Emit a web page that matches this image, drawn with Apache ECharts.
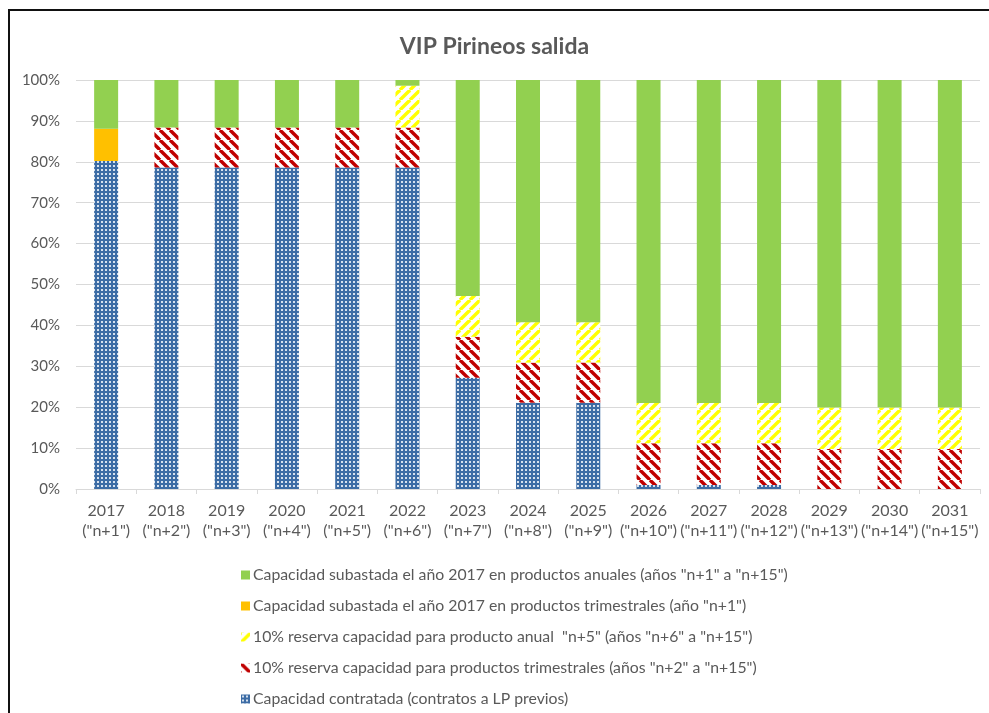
<!DOCTYPE html>
<html>
<head>
<meta charset="utf-8">
<script src="https://cdn.jsdelivr.net/npm/echarts@6/dist/echarts.min.js"></script>
<style>
  html, body { margin: 0; padding: 0; background: #fff; }
  #chart { width: 989px; height: 713px; }
</style>
</head>
<body>
<div id="chart"></div>
<script>
const years = ['2017', '2018', '2019', '2020', '2021', '2022', '2023', '2024', '2025', '2026', '2027', '2028', '2029', '2030', '2031']
const steps = ['"n+1"', '"n+2"', '"n+3"', '"n+4"', '"n+5"', '"n+6"', '"n+7"', '"n+8"', '"n+9"', '"n+10"', '"n+11"', '"n+12"', '"n+13"', '"n+14"', '"n+15"']

// % of capacity
const contratada = [80.2, 78.6, 78.6, 78.6, 78.6, 78.6, 27.2, 21.1, 21.1, 1.0, 1.0, 1.0, 0, 0, 0]
const trimestral2017 = [7.9, 0, 0, 0, 0, 0, 0, 0, 0, 0, 0, 0, 0, 0, 0]
const reservaTrim = [0, 9.8, 9.8, 9.8, 9.8, 9.8, 10.0, 9.8, 9.8, 10.2, 10.2, 10.2, 9.8, 9.8, 9.8]
const reservaAnual = [0, 0, 0, 0, 0, 10.2, 10.0, 9.9, 9.9, 9.8, 9.8, 9.8, 10.1, 10.1, 10.1]
const anuales2017 = [11.9, 11.6, 11.6, 11.6, 11.6, 1.4, 52.8, 59.2, 59.2, 79.0, 79.0, 79.0, 80.1, 80.1, 80.1]

const yTicks = [0, 10, 20, 30, 40, 50, 60, 70, 80, 90, 100]

const names = {
  anual: 'Capacidad subastada el año 2017 en productos anuales (años "n+1" a "n+15")',
  trim: 'Capacidad subastada el año 2017 en productos trimestrales (año "n+1")',
  resAnual: '10% reserva capacidad para producto anual  "n+5" (años "n+6" a "n+15")',
  resTrim: '10% reserva capacidad para productos trimestrales (años "n+2" a "n+15")',
  contr: 'Capacidad contratada (contratos a LP previos)',
}

const FONT = 'Lato, "Open Sans", sans-serif'
const TXT = '#595959'

function stripes(color, dir) {
  const s = 10
  const c = document.createElement('canvas')
  c.width = s
  c.height = s
  const g = c.getContext('2d')
  g.fillStyle = '#fff'
  g.fillRect(0, 0, s, s)
  g.strokeStyle = color
  g.lineWidth = 3.4
  for (let k = -1; k <= 1; k++) {
    g.beginPath()
    if (dir === 'down') {
      g.moveTo(k * s, 0)
      g.lineTo(k * s + s, s)
    } else {
      g.moveTo(k * s, s)
      g.lineTo(k * s + s, 0)
    }
    g.stroke()
  }
  return { image: c, repeat: 'repeat' }
}

function dots() {
  const c = document.createElement('canvas')
  c.width = 4
  c.height = 4
  const g = c.getContext('2d')
  g.fillStyle = '#3c6ca5'
  g.fillRect(0, 0, 4, 4)
  g.fillStyle = '#d6e1ee'
  g.fillRect(1, 1, 2, 2)
  return { image: c, repeat: 'repeat' }
}

function bar(name, data, color) {
  return {
    name,
    type: 'bar',
    stack: 'total',
    barWidth: 24,
    data,
    itemStyle: { color },
    emphasis: { disabled: true },
  }
}

const chart = echarts.init(document.getElementById('chart'))

chart.setOption({
  animation: false,
  title: {
    text: 'VIP Pirineos salida',
    left: 'center',
    top: 30,
    textStyle: { fontFamily: FONT, fontSize: 23, fontWeight: 'bold', color: TXT },
  },
  grid: { left: 76, right: 9, top: 80, bottom: 224 },
  legend: {
    orient: 'vertical',
    left: 236,
    top: 562,
    itemWidth: 9,
    itemHeight: 9,
    itemGap: 15,
    icon: 'rect',
    data: [names.anual, names.trim, names.resAnual, names.resTrim, names.contr],
    textStyle: { fontFamily: FONT, fontSize: 15.8, color: TXT, lineHeight: 16, padding: [0, 0, 0, -2] },
  },
  xAxis: {
    type: 'category',
    data: years.map((y, i) => y + '\n(' + steps[i] + ')'),
    axisLine: { lineStyle: { color: '#d9d9d9' } },
    axisTick: { show: true, length: 5, lineStyle: { color: '#d9d9d9' } },
    axisLabel: { fontFamily: FONT, fontSize: 16, color: TXT, lineHeight: 20, margin: 12, interval: 0 },
  },
  yAxis: {
    type: 'value',
    min: yTicks[0],
    max: yTicks[yTicks.length - 1],
    interval: 10,
    axisLine: { show: false },
    axisTick: { show: false },
    splitLine: { lineStyle: { color: '#d9d9d9' } },
    axisLabel: { fontFamily: FONT, fontSize: 15, color: TXT, margin: 16, formatter: '{value}%' },
  },
  graphic: [
    { type: 'line', shape: { x1: 8, y1: 10, x2: 989, y2: 10 }, style: { stroke: '#111', lineWidth: 2 } },
    { type: 'line', shape: { x1: 9, y1: 10, x2: 9, y2: 713 }, style: { stroke: '#111', lineWidth: 2 } },
  ],
  series: [
    bar(names.contr, contratada, dots()),
    bar(names.trim, trimestral2017, '#ffc000'),
    bar(names.resTrim, reservaTrim, stripes('#c00000', 'down')),
    bar(names.resAnual, reservaAnual, stripes('#ffff00', 'up')),
    bar(names.anual, anuales2017, '#92d050'),
  ],
})
</script>
</body>
</html>
